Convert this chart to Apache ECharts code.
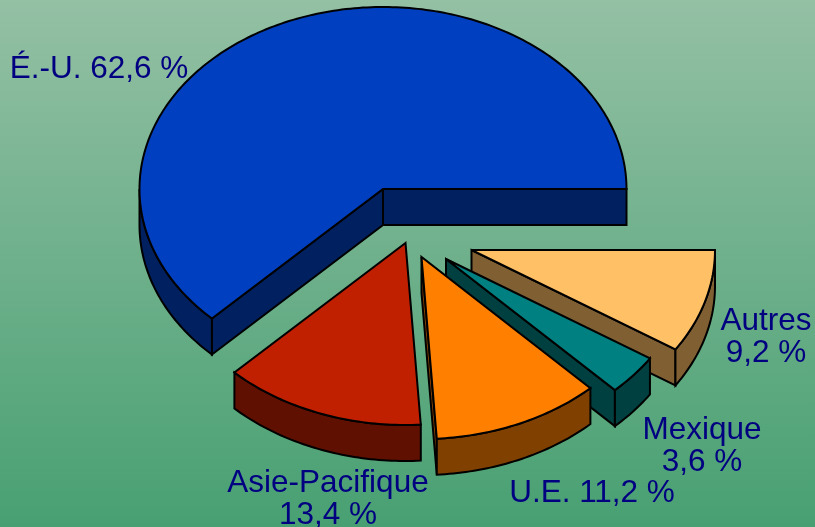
<!DOCTYPE html>
<html>
<head>
<meta charset="utf-8">
<script src="https://cdn.jsdelivr.net/npm/echarts@6/dist/echarts.min.js"></script>
<style>
html, body { margin: 0; padding: 0; }
#main { width: 815px; height: 527px; }
</style>
</head>
<body>
<div id="main"></div>
<script>
var categories = ['É.-U.', 'Asie-Pacifique', 'U.E.', 'Mexique', 'Autres'];
var shares = [62.6, 13.4, 11.2, 3.6, 9.2];

var topColors = ['#0040c0', '#c02000', '#ff8000', '#008080', '#ffc066'];
var wallColors = ['#002060', '#601000', '#804000', '#004040', '#806033'];

// apex of every slice on screen, the pie is exploded by hand
var apexX = [383, 405.5, 421.5, 446, 471.5];
var apexY = [189, 243, 257, 259, 250];
// back to front
var paintOrder = [0, 4, 3, 2, 1];
var labelSeparators = [' ', '\n', ' ', '\n', '\n'];
var labelX = [99, 328, 592, 702, 766];
var labelY = [69, 499, 493, 446, 337];

var RX = 243.5, RY = 182, DEPTH = 36;
var total = shares.reduce(function (a, b) { return a + b; }, 0);

function arcPoints(cx, cy, from, to, dy) {
    var pts = [];
    var n = Math.max(2, Math.ceil(to - from));
    for (var i = 0; i <= n; i++) {
        var a = (from + (to - from) * i / n) * Math.PI / 180;
        pts.push([cx + RX * Math.cos(a), cy - RY * Math.sin(a) + dy]);
    }
    return pts;
}

function renderSlice(params, api) {
    var i = params.dataIndex;
    var start = 0;
    for (var k = 0; k < i; k++) start += shares[k] / total * 360;
    var end = start + api.value(0) / total * 360;
    var cx = apexX[i], cy = apexY[i];
    var z = paintOrder.indexOf(i) * 5 + 1;
    var line = { stroke: '#000', lineWidth: 2, lineJoin: 'miter', miterLimit: 3 };
    var children = [];

    function wall(pts, order) {
        children.push({
            type: 'polygon',
            z2: z + order,
            shape: { points: pts },
            style: Object.assign({ fill: wallColors[i] }, line)
        });
    }
    function cutWall(angle, order) {
        var a = angle * Math.PI / 180;
        var x = cx + RX * Math.cos(a), y = cy - RY * Math.sin(a);
        wall([[cx, cy], [x, y], [x, y + DEPTH], [cx, cy + DEPTH]], order);
    }

    // only the faces turned to the viewer
    if (Math.cos(start * Math.PI / 180) > 0) cutWall(start, 0);
    if (Math.cos(end * Math.PI / 180) < 0) cutWall(end, 0);
    var wallFrom = Math.max(start, 180);
    if (end > wallFrom) {
        wall(arcPoints(cx, cy, wallFrom, end, 0)
            .concat(arcPoints(cx, cy, wallFrom, end, DEPTH).reverse()), 1);
    }

    children.push({
        type: 'polygon',
        z2: z + 2,
        shape: { points: [[cx, cy]].concat(arcPoints(cx, cy, start, end, 0)) },
        style: Object.assign({ fill: topColors[i] }, line)
    });

    children.push({
        type: 'text',
        z2: 100,
        style: {
            text: categories[i] + labelSeparators[i] + shares[i].toFixed(1).replace('.', ',') + ' %',
            x: labelX[i],
            y: labelY[i],
            fill: '#000080',
            font: '31.5px "Liberation Sans", Arial, sans-serif',
            lineHeight: 32,
            align: 'center',
            verticalAlign: 'middle'
        }
    });
    return { type: 'group', children: children };
}

var myChart = echarts.init(document.getElementById('main'), null, { renderer: 'canvas' });
var option = {
    animation: false,
    backgroundColor: {
        type: 'linear', x: 0, y: 0, x2: 0, y2: 1,
        colorStops: [
            { offset: 0, color: '#94c0a4' },
            { offset: 1, color: '#48a072' }
        ]
    },
    series: [{
        type: 'custom',
        coordinateSystem: 'none',
        renderItem: renderSlice,
        silent: true,
        clip: false,
        data: shares.map(function (v) { return [v]; })
    }]
};
myChart.setOption(option);
</script>
</body>
</html>
